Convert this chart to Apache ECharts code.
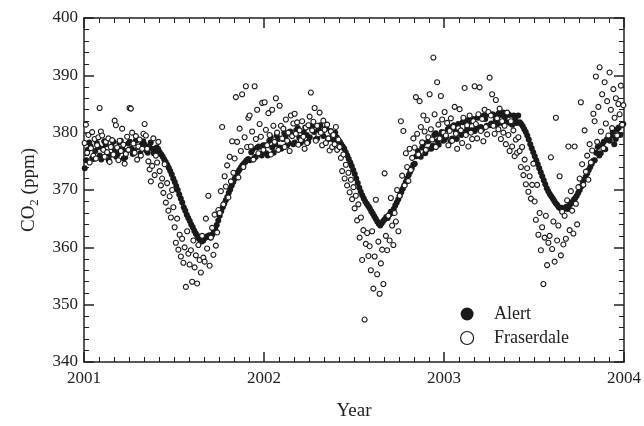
<!DOCTYPE html>
<html>

<head>
	<meta charset="UTF-8">
	<title>CO2 Alert / Fraserdale</title>
	<style>
		html, body { margin: 0; padding: 0; background: #fff; }
		#chart { width: 644px; height: 426px; }
	</style>
	<script src="https://cdn.jsdelivr.net/npm/echarts@6.0.0/dist/echarts.min.js"></script>
</head>

<body>
	<div id="chart"></div>
	<script>
		// years on the x axis
		var years = [2001, 2002, 2003];

		// Alert, 10 readings per month
		var alert2001 = [
			373.8, 375.2, 377.0, 378.3, 377.6, 375.6, 375.4, 376.8, 378.2, 377.5,
			376.0, 375.3, 377.2, 378.5, 378.0, 376.4, 375.2, 376.1, 377.6, 378.4,
			377.0, 375.8, 376.3, 378.3, 378.6, 377.2, 375.5, 375.7, 376.8, 378.1,
			378.4, 377.2, 376.3, 376.9, 378.6, 378.8, 377.5, 376.4, 377.9, 378.5,
			377.9, 376.9, 376.5, 377.6, 378.3, 377.2, 376.4, 376.5, 377.4, 377.1,
			376.6, 376.2, 375.8, 375.3, 374.9, 374.4, 373.9, 373.3, 372.7, 372.0,
			371.4, 370.7, 370.0, 369.2, 368.5, 367.8, 367.0, 366.4, 365.7, 365.1,
			364.6, 364.0, 363.5, 362.9, 362.4, 362.0, 361.6, 361.3, 361.0, 361.2,
			361.6, 361.9, 361.8, 362.1, 361.7, 362.2, 362.6, 363.2, 363.9, 364.7,
			365.5, 366.3, 367.0, 367.6, 368.2, 368.8, 369.5, 370.1, 370.8, 371.4,
			372.0, 372.6, 373.1, 373.5, 373.9, 374.3, 374.6, 374.9, 375.2, 375.4,
			375.2, 376.6, 377.1, 375.6, 375.8, 377.4, 377.6, 376.3, 376.0, 377.8
		];
		var alert2002 = [
			377.8, 376.4, 376.0, 378.6, 379.2, 377.4, 376.5, 378.0, 379.5, 378.9,
			377.4, 377.2, 378.9, 380.0, 379.4, 377.8, 378.2, 380.2, 379.7, 378.0,
			378.3, 380.4, 380.8, 379.1, 378.2, 378.6, 380.1, 380.9, 379.6, 378.4,
			379.2, 380.9, 381.2, 380.1, 378.8, 379.0, 380.6, 381.3, 379.8, 379.4,
			380.6, 380.8, 379.0, 378.9, 380.3, 379.8, 378.7, 380.0, 379.2, 378.5,
			378.4, 378.0, 377.6, 377.2, 376.6, 376.0, 375.4, 374.8, 374.2, 373.5,
			372.8, 372.0, 371.2, 370.4, 369.7, 369.1, 368.5, 368.0, 367.6, 367.2,
			366.8, 366.3, 365.9, 365.4, 365.0, 364.5, 364.1, 363.8, 364.2, 364.6,
			364.9, 365.3, 365.1, 365.7, 366.2, 366.0, 366.7, 367.3, 367.8, 368.4,
			369.0, 369.6, 370.2, 370.8, 371.4, 372.0, 372.6, 373.2, 373.8, 374.4,
			374.6, 375.9, 376.8, 376.0, 375.8, 377.4, 378.2, 376.4, 377.0, 378.5,
			378.8, 377.2, 377.7, 379.6, 379.9, 378.5, 377.9, 379.5, 380.1, 378.6
		];
		var alert2003 = [
			378.8, 379.3, 380.6, 381.0, 378.5, 379.0, 381.3, 380.4, 378.9, 381.5,
			380.0, 379.6, 381.8, 382.0, 380.2, 380.8, 382.3, 381.9, 380.4, 382.4,
			380.3, 380.8, 382.6, 382.8, 381.0, 380.6, 383.0, 382.4, 381.2, 383.2,
			381.3, 381.6, 383.2, 383.0, 382.2, 381.5, 383.4, 383.1, 381.7, 383.5,
			382.6, 381.8, 383.3, 383.1, 381.6, 381.4, 383.0, 382.4, 381.7, 383.0,
			381.8, 381.5, 381.1, 380.6, 380.1, 379.5, 378.8, 378.0, 377.3, 376.6,
			375.9, 375.2, 374.5, 373.8, 373.1, 372.4, 371.7, 371.0, 370.3, 369.8,
			369.3, 368.9, 368.5, 368.1, 367.7, 367.4, 367.0, 366.8, 366.9, 366.6,
			366.8, 367.1, 366.7, 367.3, 367.6, 367.9, 368.3, 368.6, 369.0, 369.5,
			370.0, 370.6, 371.2, 371.8, 372.3, 372.9, 373.5, 374.0, 374.6, 375.1,
			375.2, 376.5, 377.5, 376.0, 376.4, 377.9, 378.4, 377.1, 378.8, 379.0,
			378.6, 379.4, 380.2, 378.0, 378.9, 380.6, 380.9, 379.6, 381.3, 381.5
		];

		// Fraserdale, 12 readings per month
		var fras2001 = [
			378.2, 381.4, 376.5, 379.6, 374.8, 377.3, 380.1, 376.0, 378.9, 375.5, 377.8, 379.2,
			384.3, 380.2, 379.5, 377.0, 375.8, 378.4, 376.6, 379.0, 374.9, 377.5, 378.7, 376.2,
			382.1, 381.3, 377.4, 375.2, 378.6, 376.8, 380.7, 377.9, 374.6, 376.3, 379.3, 377.0,
			384.3, 384.2, 380.0, 378.1, 376.5, 379.4, 375.3, 377.6, 378.8, 376.0, 377.2, 379.8,
			381.5, 379.5, 377.2, 375.0, 373.6, 371.5, 374.2, 379.0, 372.6, 376.0, 374.8, 378.4,
			373.3, 370.8, 372.0, 369.5, 374.5, 367.8, 371.2, 366.4, 368.9, 365.2, 370.0, 367.0,
			363.5, 360.8, 365.0, 359.6, 362.2, 358.4, 361.5, 357.3, 360.0, 353.1, 362.8, 358.9,
			357.0, 359.5, 354.0, 361.2, 356.5, 358.6, 353.7, 360.4, 357.8, 355.6, 362.0, 358.2,
			357.5, 365.0, 359.8, 369.0, 356.8, 361.7, 363.4, 358.7, 365.7, 360.3, 362.6, 366.5,
			366.0, 369.8, 381.0, 367.5, 372.4, 370.6, 374.3, 368.7, 375.8, 371.5, 378.5, 373.0,
			375.5, 386.2, 378.4, 372.2, 380.7, 376.8, 386.7, 374.0, 379.2, 388.1, 377.5, 382.6,
			383.0, 377.6, 380.2, 375.3, 388.1, 378.9, 384.0, 376.4, 381.5, 379.3, 385.2, 377.0
		];
		var fras2002 = [
			385.3, 380.5, 377.8, 383.4, 379.6, 376.2, 384.0, 381.2, 378.4, 386.0, 380.0, 377.0,
			384.7, 381.2, 379.0, 380.7, 377.5, 382.3, 378.6, 380.0, 376.8, 383.0, 379.4, 381.6,
			383.3, 379.8, 381.8, 377.9, 380.4, 378.7, 382.0, 379.3, 377.2, 380.9, 378.2, 381.3,
			382.8, 387.0, 380.4, 381.9, 384.3, 378.6, 381.2, 379.7, 383.5, 380.0, 377.8, 382.1,
			380.5, 378.2, 381.4, 379.0, 376.9, 380.2, 377.5, 379.6, 378.0, 381.0, 377.0, 378.8,
			377.5, 375.6, 373.3, 376.2, 372.0, 374.4, 370.8, 373.0, 369.6, 371.8, 368.4, 370.5,
			366.8, 369.0, 364.7, 367.5, 361.7, 365.2, 357.8, 363.0, 347.4, 360.6, 362.5, 358.5,
			360.2, 356.0, 362.8, 352.8, 358.4, 368.3, 355.3, 361.0, 351.9, 357.2, 359.6, 353.6,
			372.9, 362.0, 359.5, 365.5, 361.2, 368.6, 363.8, 360.4, 366.0, 364.5, 370.0, 362.8,
			369.0, 382.0, 372.5, 380.3, 370.8, 376.4, 374.0, 371.6, 377.2, 373.5, 375.6, 379.0,
			377.4, 386.2, 379.8, 376.2, 385.5, 381.0, 378.3, 383.0, 380.2, 377.0, 382.2, 379.2,
			386.7, 380.6, 378.8, 393.1, 383.2, 377.5, 388.8, 381.4, 379.0, 386.4, 382.3, 380.0
		];
		var fras2003 = [
			383.6, 379.5, 381.7, 377.8, 380.3, 382.5, 378.6, 381.0, 384.5, 379.8, 377.2, 380.8,
			384.1, 380.4, 378.2, 382.6, 387.8, 379.6, 381.3, 377.6, 383.0, 380.0, 378.9, 382.0,
			388.1, 381.5, 379.0, 383.2, 387.9, 380.3, 382.4, 378.5, 384.0, 381.0, 379.7, 383.6,
			389.6, 383.0, 386.7, 381.2, 379.8, 385.7, 382.5, 380.6, 384.2, 378.9, 382.0, 380.0,
			381.2, 378.0, 383.5, 379.6, 376.8, 382.0, 377.6, 380.4, 375.9, 378.8, 376.5, 379.2,
			376.8, 374.0, 377.5, 372.6, 375.3, 371.0, 373.8, 369.7, 372.4, 368.5, 370.9, 374.6,
			368.0, 364.8, 370.9, 362.2, 366.0, 359.5, 363.5, 353.6, 361.7, 365.5, 356.9, 360.8,
			362.0, 375.7, 359.7, 364.5, 357.5, 382.6, 361.2, 363.8, 372.4, 358.6, 366.2, 360.5,
			365.5, 361.5, 368.2, 377.6, 363.0, 369.8, 366.4, 362.4, 377.6, 367.6, 364.0, 370.5,
			372.0, 385.3, 374.5, 370.9, 380.4, 373.2, 376.0, 371.8, 378.0, 374.8, 376.9, 383.3,
			382.0, 389.8, 378.4, 384.5, 391.4, 380.2, 386.7, 377.3, 388.8, 381.6, 385.5, 379.5,
			390.5, 384.0, 380.8, 387.6, 382.6, 386.0, 379.5, 385.0, 383.2, 388.2, 381.4, 384.8
		];

		// readings are evenly spaced through each year
		function toPoints(list, perYear) {
			var pts = [];
			list.forEach(function (vals, k) {
				for (var i = 0; i < vals.length; i++) {
					pts.push([years[k] + (i + 0.5) / perYear, vals[i]]);
				}
			});
			return pts;
		}

		var alertData = toPoints([alert2001, alert2002, alert2003], 120);
		var frasData = toPoints([fras2001, fras2002, fras2003], 144);

		var serif = 'Liberation Serif';
		var ink = '#222';

		var myChart = echarts.init(document.getElementById('chart'), null, { renderer: 'canvas' });

		function xAx(pos, labels) {
			return {
				type: 'value', position: pos, min: 2001, max: 2004, interval: 1,
				axisLine: { lineStyle: { color: ink, width: 1.5 } },
				axisTick: { inside: true, length: 10, lineStyle: { color: ink, width: 1.5 } },
				minorTick: { show: true, splitNumber: 12, length: 5, lineStyle: { color: ink, width: 1 } },
				splitLine: { show: false },
				axisLabel: {
					show: labels, margin: 8, color: ink, fontFamily: serif, fontSize: 17,
					formatter: function (v) { return String(v); }
				},
				name: labels ? 'Year' : '',
				nameLocation: 'middle', nameGap: 40,
				nameTextStyle: { color: ink, fontFamily: serif, fontSize: 19 }
			};
		}

		function yAx(pos, labels) {
			return {
				type: 'value', position: pos, min: 340, max: 400, interval: 10,
				axisLine: { lineStyle: { color: ink, width: 1.5 } },
				axisTick: { inside: true, length: 10, lineStyle: { color: ink, width: 1.5 } },
				minorTick: { show: true, splitNumber: 5, length: 5, lineStyle: { color: ink, width: 1 } },
				splitLine: { show: false },
				axisLabel: { show: labels, margin: 6, color: ink, fontFamily: serif, fontSize: 17 },
				name: labels ? '{a|CO}{s|2}{a| (ppm)}' : '',
				nameLocation: 'middle', nameGap: 43,
				nameTextStyle: {
					color: ink, fontFamily: serif,
					rich: {
						a: { fontFamily: serif, fontSize: 19, color: ink, lineHeight: 24 },
						s: { fontFamily: serif, fontSize: 13, color: ink, lineHeight: 14, verticalAlign: 'bottom' }
					}
				}
			};
		}

		var option = {
			animation: false,
			backgroundColor: '#fff',
			grid: { left: 84, top: 18, right: 16, bottom: 60 },
			xAxis: [xAx('bottom', true), xAx('top', false)],
			yAxis: [yAx('left', true), yAx('right', false)],
			legend: {
				orient: 'vertical', left: 455, top: 299,
				itemWidth: 36, itemHeight: 13, itemGap: 4,
				icon: 'circle',
				textStyle: { fontFamily: serif, fontSize: 18, color: ink, lineHeight: 20, padding: [0, 0, 0, 4] },
				data: [
					{ name: 'Alert', itemStyle: { color: '#1a1a1a', borderWidth: 0 } },
					{ name: 'Fraserdale', itemStyle: { color: '#fff', borderColor: '#1a1a1a', borderWidth: 1.2 } }
				]
			},
			series: [
				{
					name: 'Alert', type: 'scatter', xAxisIndex: 0, yAxisIndex: 0,
					symbol: 'circle', symbolSize: 6,
					itemStyle: { color: '#1a1a1a', opacity: 1 },
					data: alertData
				},
				{
					name: 'Fraserdale', type: 'scatter', xAxisIndex: 0, yAxisIndex: 0,
					symbol: 'circle', symbolSize: 5,
					itemStyle: { color: '#fff', borderColor: '#1a1a1a', borderWidth: 1.1, opacity: 1 },
					data: frasData
				}
			]
		};

		myChart.setOption(option);
	</script>
</body>

</html>
